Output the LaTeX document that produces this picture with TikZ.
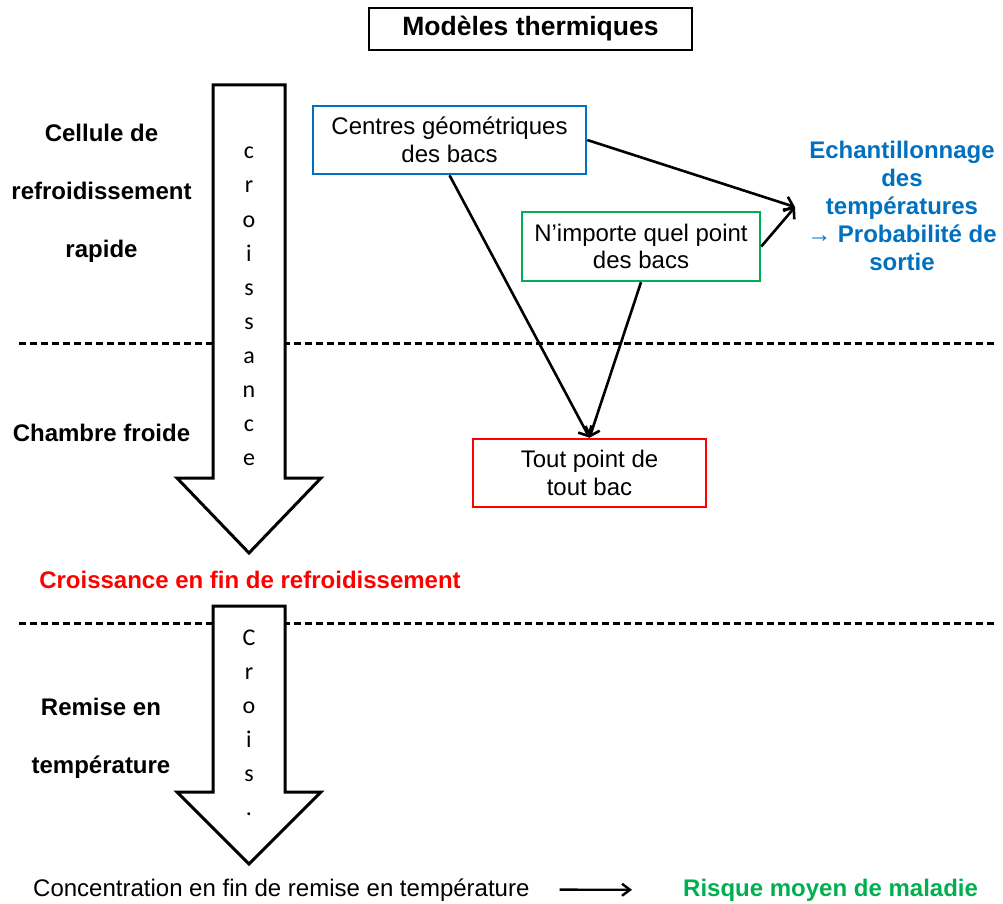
\documentclass[tikz,border=0pt]{standalone}
\usepackage{fontspec}
\setmainfont{Liberation Sans}
\newfontfamily\calib{Carlito}
\usetikzlibrary{arrows.meta}
\definecolor{ablue}{HTML}{0070C0}
\definecolor{agreen}{HTML}{00B050}
\definecolor{ared}{HTML}{FF0000}
\begin{document}
\begin{tikzpicture}[x=1pt,y=-1pt,
  lbl/.style={font=\bfseries\fontsize{24}{28}\selectfont, inner sep=0pt, anchor=base},
  plain/.style={font=\fontsize{24}{28}\selectfont, inner sep=0pt, anchor=base},
  framed/.style={draw=#1, line width=2.5pt, inner sep=0pt, align=center,
    font=\fontsize{24}{27.6}\selectfont},
  letter/.style={font=\calib\fontsize{24}{28}\selectfont, inner sep=0pt, anchor=base},
  bigarrow/.style={draw, fill=white, line width=3pt, miter limit=10},
  sep/.style={line width=3pt, dash pattern=on 7pt off 4pt},
  link/.style={line width=2.6pt, -{Straight Barb[length=8pt,width=15pt]}},
]
\useasboundingbox (0,0) rectangle (1003,904);

% dashed separators between the stages
\draw[sep] (19,343) -- (994,343);
\draw[sep] (19,623) -- (994,623);

% growth arrows
\draw[bigarrow] (213,85) -- (285,85) -- (285,478) -- (321,478) -- (249,553)
  -- (177,478) -- (213,478) -- cycle;
\draw[bigarrow] (213,606) -- (285,606) -- (285,792) -- (321,792) -- (249,864)
  -- (177,792) -- (213,792) -- cycle;
\foreach \ch [count=\i from 0] in {c,r,o,i,s,s,a,n,c,e}
  \node[letter] (up\i) at (249,{159+34*\i}) {\ch};
\foreach \ch [count=\i from 0] in {C,r,o,i,s,.}
  \node[letter] (dn\i) at (249,{645+34*\i}) {\ch};

% title
\node[draw, line width=2.6pt, minimum width=323pt, minimum height=42pt, inner sep=0pt,
  font=\bfseries\fontsize{26.5}{30}\selectfont] (title) at (530.5,29) {Modèles thermiques};

% stage labels
\node[lbl] (cell1) at (101.5,141.7) {Cellule de};
\node[lbl] (cell2) at (101.5,199.4) {refroidissement};
\node[lbl] (cell3) at (101.5,257) {rapide};
\node[lbl] (chambre) at (101.5,441.7) {Chambre froide};
\node[lbl, text=ared] (croiss) at (250,588.3) {Croissance en fin de refroidissement};
\node[lbl] (remise1) at (101,715.5) {Remise en};
\node[lbl] (remise2) at (101,773) {température};

% model boxes
\node[framed=ablue, minimum width=273pt, minimum height=68pt] (centres) at (449.5,140)
  {Centres géométriques\\des bacs};
\node[framed=agreen, minimum width=238pt, minimum height=69pt] (nimporte) at (641,246.5)
  {N’importe quel point\\des bacs};
\node[framed=ared, minimum width=233pt, minimum height=68pt] (tout) at (589.5,473)
  {Tout point de\\tout bac};

\node[font=\bfseries\fontsize{24}{28}\selectfont, text=ablue, align=center, inner sep=0pt]
  (echant) at (902,205.6)
  {Echantillonnage\\des\\températures\\→ Probabilité de\\sortie};
\coordinate (meet) at (795,207);

\draw[link] (centres.east) -- (meet);
\draw[link] (nimporte.east) -- (meet);
\draw[link] (centres.south) -- (tout.north);
\draw[link] (nimporte.south) -- (tout.north);

% final outcome
\node[plain, anchor=base west] (conc) at (33,896) {Concentration en fin de remise en température};
\node[lbl, anchor=base west, text=agreen] (risque) at (683,896) {Risque moyen de maladie};
\draw[line width=2.4pt, -{Straight Barb[length=8pt,width=12pt]}]
  ([xshift=30pt]conc.east) -- ([xshift=-51pt]risque.west);
\end{tikzpicture}
\end{document}
